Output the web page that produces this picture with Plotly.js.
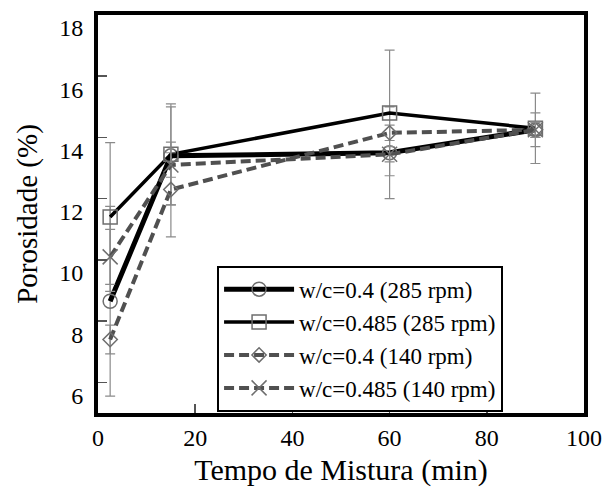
<!DOCTYPE html>
<html>
<head>
<meta charset="utf-8">
<script src="https://cdn.plot.ly/plotly-3.0.1.min.js"></script>
<style>html,body{margin:0;padding:0;background:#fff;}#chart{width:609px;height:492px;}</style>
</head>
<body>
<div id="chart"></div>
<script>
var tempo = [2.5, 15, 60, 90];

var names = ['w/c=0.4 (285 rpm)', 'w/c=0.485 (285 rpm)', 'w/c=0.4 (140 rpm)', 'w/c=0.485 (140 rpm)'];

var por_040_285 = [8.65, 13.4, 13.5, 14.25];
var err_040_285 = [3.1, 1.6, 1.5, 0.55];

var por_0485_285 = [11.4, 13.45, 14.8, 14.3];
var err_0485_285 = [2.43, 1.65, 2.05, 1.15];

var por_040_140 = [7.4, 12.3, 14.15, 14.25];
var err_040_140 = [0.47, 1.55, 0.25, 0.25];

var por_0485_140 = [10.1, 13.1, 13.45, 14.25];
var err_0485_140 = [0.9, 0.4, 0.25, 0.25];

var xTicks = [0, 20, 40, 60, 80, 100];
var yTicks = [6, 8, 10, 12, 14, 16, 18];

var serif = 'Liberation Serif, Times New Roman, serif';
var errStyle = function (arr) {
  return {type: 'data', array: arr, visible: true, color: '#8a8a8a', thickness: 1.2, width: 5};
};

var traces = [
  {x: tempo, y: por_040_285, name: names[0], mode: 'lines+markers', error_y: errStyle(err_040_285),
   line: {color: '#000', width: 5},
   marker: {symbol: 'circle-open', size: 14, color: '#6e6e6e', line: {width: 1.5, color: '#6e6e6e'}}},
  {x: tempo, y: por_0485_285, name: names[1], mode: 'lines+markers', error_y: errStyle(err_0485_285),
   line: {color: '#000', width: 3.5},
   marker: {symbol: 'square-open', size: 14, color: '#6e6e6e', line: {width: 1.5, color: '#6e6e6e'}}},
  {x: tempo, y: por_040_140, name: names[2], mode: 'lines+markers', error_y: errStyle(err_040_140),
   line: {color: '#505050', width: 4, dash: '10px,5px'},
   marker: {symbol: 'diamond-open', size: 11, color: '#6e6e6e', line: {width: 1.5, color: '#6e6e6e'}}},
  {x: tempo, y: por_0485_140, name: names[3], mode: 'lines+markers', error_y: errStyle(err_0485_140),
   line: {color: '#505050', width: 4, dash: '10px,5px'},
   marker: {symbol: 'x-thin-open', size: 15, color: '#6e6e6e', line: {width: 1.5, color: '#6e6e6e'}}}
];

var layout = {
  width: 609, height: 492,
  margin: {l: 98, r: 25, t: 15, b: 79},
  paper_bgcolor: '#fff', plot_bgcolor: '#fff',
  font: {family: serif, size: 24, color: '#000'},
  showlegend: true,
  legend: {
    x: 0.245, y: 0.37, xanchor: 'left', yanchor: 'top',
    bordercolor: '#000', borderwidth: 2, bgcolor: '#fff',
    font: {family: serif, size: 23, color: '#000'},
    itemwidth: 70,
    tracegroupgap: 0
  },
  xaxis: {
    range: [0, 100], tickvals: xTicks, ticktext: xTicks.map(String),
    ticks: 'inside', ticklen: 9, tickwidth: 1.5, tickcolor: '#555',
    showline: true, linecolor: '#000', linewidth: 4, mirror: true,
    showgrid: false, zeroline: false,
    tickfont: {family: serif, size: 24, color: '#000'},
    title: {text: 'Tempo de Mistura (min)', font: {family: serif, size: 30, color: '#000'}, standoff: 10}
  },
  yaxis: {
    range: [5, 18], tickvals: yTicks, ticktext: yTicks.map(String),
    ticks: 'inside', ticklen: 9, tickwidth: 1.5, tickcolor: '#555',
    ticklabelshift: 13, ticklabelstandoff: 6,
    showline: true, linecolor: '#000', linewidth: 4, mirror: true,
    showgrid: false, zeroline: false,
    tickfont: {family: serif, size: 24, color: '#000'},
    title: {text: 'Porosidade (%)', font: {family: serif, size: 29, color: '#000'}, standoff: 14}
  }
};

Plotly.newPlot('chart', traces, layout, {displayModeBar: false, staticPlot: true});
</script>
</body>
</html>
